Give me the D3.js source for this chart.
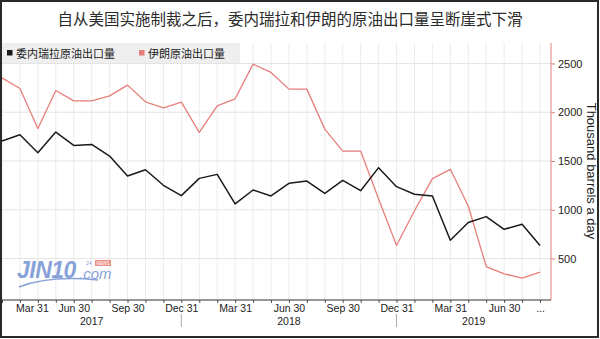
<!DOCTYPE html>
<html>
<head>
<meta charset="utf-8">
<script src="https://cdn.jsdelivr.net/npm/d3@7"></script>
<style>
  html, body { margin: 0; padding: 0; background: #fff; }
  svg { display: block; }
  text { font-family: "Liberation Sans", Arial, sans-serif; }
  .cjk { font-family: "Noto Sans CJK SC", sans-serif; }
</style>
</head>
<body>
<svg id="chart" width="600" height="339"></svg>
<script>
// Monthly crude export volumes, thousand barrels a day
const months = [
  "2017-02","2017-03","2017-04","2017-05","2017-06","2017-07","2017-08","2017-09","2017-10","2017-11","2017-12",
  "2018-01","2018-02","2018-03","2018-04","2018-05","2018-06","2018-07","2018-08","2018-09","2018-10","2018-11","2018-12",
  "2019-01","2019-02","2019-03","2019-04","2019-05","2019-06","2019-07","2019-08"
];
const venezuela = [1705,1769,1585,1797,1660,1670,1551,1346,1411,1251,1145,1322,1363,1060,1203,1142,1271,1295,1169,1302,1196,1432,1237,1159,1142,688,869,930,800,852,633];
const iran = [2352,2244,1834,2223,2117,2117,2168,2278,2107,2045,2104,1793,2066,2138,2493,2408,2237,2237,1827,1602,1602,1110,633,990,1319,1415,1039,418,343,299,360];

const seriesNames = ["委内瑞拉原油出口量", "伊朗原油出口量"];
const seriesColors = ["#1a1a1a", "#e67f7c"];

const quarterLabels = {
  "2017-03": "Mar 31", "2017-06": "Jun 30", "2017-09": "Sep 30", "2017-12": "Dec 31",
  "2018-03": "Mar 31", "2018-06": "Jun 30", "2018-09": "Sep 30", "2018-12": "Dec 31",
  "2019-03": "Mar 31", "2019-06": "Jun 30", "2019-08": "..."
};
const years = ["2017", "2018", "2019"];
const yTicks = [500, 1000, 1500, 2000, 2500];

const title = "自从美国实施制裁之后，委内瑞拉和伊朗的原油出口量呈断崖式下滑";
const yTitle = "Thousand barrels a day";

// Layout
const W = 600, H = 339;
const plot = { left: 2, right: 551, top: 43, bottom: 300 };

const svg = d3.select("#chart");

const x = d3.scalePoint().domain(months).range([plot.left, 540]);
const y = d3.scaleLinear().domain([75, 2710]).range([plot.bottom, plot.top]);

// Title
svg.append("text")
  .attr("class", "cjk")
  .attr("x", 290).attr("y", 25)
  .attr("text-anchor", "middle")
  .attr("font-size", 15.5)
  .attr("fill", "#2b2b2b")
  .text(title);

// Vertical month gridlines
svg.append("g").selectAll("line").data(months).join("line")
  .attr("x1", d => x(d)).attr("x2", d => x(d))
  .attr("y1", plot.top).attr("y2", plot.bottom)
  .attr("stroke", "#ececec").attr("stroke-width", 1);

// Horizontal value gridlines
svg.append("g").selectAll("line").data(yTicks).join("line")
  .attr("x1", plot.left).attr("x2", plot.right)
  .attr("y1", d => y(d)).attr("y2", d => y(d))
  .attr("stroke", "#e4e4e4").attr("stroke-width", 1);

// Watermark
const wm = svg.append("g").attr("opacity", 0.75);
wm.append("text")
  .attr("x", 17).attr("y", 278)
  .attr("font-size", 23).attr("font-weight", "bold").attr("font-style", "italic")
  .attr("fill", "#5f84cc").attr("letter-spacing", -0.5)
  .text("JIN10");
wm.append("text")
  .attr("x", 79).attr("y", 279)
  .attr("font-size", 15).attr("font-style", "italic")
  .attr("fill", "#5f84cc")
  .text(".com");
wm.append("text")
  .attr("x", 86).attr("y", 265)
  .attr("font-size", 5).attr("fill", "#5f84cc")
  .text("24");
wm.append("rect")
  .attr("x", 95).attr("y", 260).attr("width", 16).attr("height", 6)
  .attr("fill", "#e86a5e");
wm.append("text")
  .attr("x", 103).attr("y", 265).attr("text-anchor", "middle")
  .attr("font-size", 4.5).attr("fill", "#fff")
  .text("NEWS");
wm.append("path")
  .attr("d", "M19,287 Q50,275 98,280")
  .attr("fill", "none").attr("stroke", "#5f84cc").attr("stroke-width", 1.5);

// Legend
svg.append("rect")
  .attr("x", plot.left).attr("y", 43).attr("width", 238).attr("height", 20)
  .attr("fill", "#efefef");
const legendX = [7, 139];
seriesNames.forEach((name, i) => {
  svg.append("rect")
    .attr("x", legendX[i]).attr("y", 50).attr("width", 5.5).attr("height", 5.5)
    .attr("fill", seriesColors[i]);
  svg.append("text")
    .attr("class", "cjk")
    .attr("x", legendX[i] + 9).attr("y", 57.5)
    .attr("font-size", 11)
    .attr("fill", "#222")
    .text(name);
});

// Lines
const line = d3.line()
  .x((d, i) => x(months[i]))
  .y(d => y(d));

svg.append("path").datum(iran)
  .attr("fill", "none").attr("stroke", seriesColors[1]).attr("stroke-width", 1.3)
  .attr("stroke-linejoin", "round")
  .attr("d", line);

svg.append("path").datum(venezuela)
  .attr("fill", "none").attr("stroke", seriesColors[0]).attr("stroke-width", 1.5)
  .attr("stroke-linejoin", "round")
  .attr("d", line);

// Right value axis
const yAxis = d3.axisRight(y).tickValues(yTicks).tickFormat(d3.format("d"))
  .tickSize(4).tickSizeOuter(0).tickPadding(3);
const yg = svg.append("g").attr("transform", `translate(${plot.right},0)`).call(yAxis);
yg.select(".domain").remove();
yg.selectAll(".tick line").attr("stroke", seriesColors[1]);
yg.selectAll(".tick text")
  .attr("font-family", "Liberation Sans, Arial, sans-serif")
  .attr("font-size", 11).attr("fill", "#222");
svg.append("line")
  .attr("x1", plot.right).attr("x2", plot.right)
  .attr("y1", plot.top).attr("y2", plot.bottom)
  .attr("stroke", seriesColors[1]).attr("stroke-width", 1);

svg.append("text")
  .attr("transform", `translate(587,171) rotate(90)`)
  .attr("text-anchor", "middle")
  .attr("font-size", 13).attr("fill", "#222")
  .text(yTitle);

// Bottom time axis
const xAxis = d3.axisBottom(x).tickSize(3).tickPadding(2)
  .tickFormat(d => quarterLabels[d] || "");
const xg = svg.append("g").attr("transform", `translate(0,${plot.bottom})`).call(xAxis);
xg.select(".domain").remove();
xg.selectAll(".tick line").attr("stroke", "#555");
xg.selectAll(".tick text")
  .attr("font-family", "Liberation Sans, Arial, sans-serif")
  .attr("font-size", 10.5).attr("fill", "#222")
  .attr("dx", d => d === months[1] ? 12 : 0);
svg.append("line")
  .attr("x1", plot.left).attr("x2", plot.right)
  .attr("y1", plot.bottom).attr("y2", plot.bottom)
  .attr("stroke", "#333").attr("stroke-width", 1);

// Year bands: separators at each December, labels centred in each span
const yearBounds = [plot.left, x("2017-12"), x("2018-12"), plot.right];
[x("2017-12"), x("2018-12")].forEach(px => {
  svg.append("line")
    .attr("x1", px).attr("x2", px).attr("y1", 314).attr("y2", 327)
    .attr("stroke", "#aaa").attr("stroke-width", 1);
});
years.forEach((yr, i) => {
  svg.append("text")
    .attr("x", (yearBounds[i] + yearBounds[i + 1]) / 2).attr("y", 325)
    .attr("text-anchor", "middle")
    .attr("font-size", 10.5).attr("fill", "#222")
    .text(yr);
});

// Outer frame
svg.append("rect")
  .attr("x", 1).attr("y", 1).attr("width", W - 3).attr("height", H - 3)
  .attr("fill", "none").attr("stroke", "#2a2a2a").attr("stroke-width", 2);
</script>
</body>
</html>
